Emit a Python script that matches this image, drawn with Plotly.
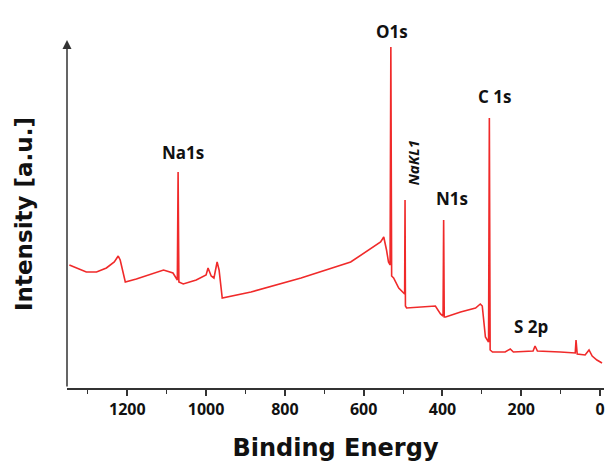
import plotly.graph_objects as go

# Binding energy (eV) and intensity (a.u.)
binding_energy = [1347, 1329, 1304, 1278, 1253, 1233, 1223, 1218, 1205, 1177, 1139, 1108, 1084,
                  1073, 1071, 1069, 1058, 1025, 1000, 995, 987, 980, 972, 967, 959,
                  886, 759, 633, 557, 549, 542, 537, 533, 531, 529, 524, 511, 499,
                  496, 495, 494, 491, 456, 418, 405, 398.5, 397, 395.5, 392, 354, 316, 304, 299, 291,
                  283, 281, 279, 273, 241, 228, 220, 170, 165, 159, 101, 63, 61, 58, 38, 28, 20, 8, -5]
intensity = [123, 120, 116, 116, 120, 126, 132, 128, 106, 109, 114, 118, 115,
             108, 216, 106, 104, 108, 113, 120, 112, 110, 126, 118, 90,
             96, 110, 126, 146, 151, 138, 126, 123, 341, 112, 110, 100, 95,
             94, 188, 82, 80, 81, 82, 74, 72, 168, 71, 71, 76, 80, 84, 82, 51,
             46, 270, 38, 36, 36, 39, 36, 37, 42, 37, 36, 35, 48, 34, 33, 38, 32, 28, 25]

peak_names = ["Na1s", "O1s", "C 1s", "N1s", "S 2p"]
peak_be = [1071, 531, 281, 397, 165]
peak_int = [216, 341, 270, 168, 42]

auger_name = "NaKL1"
auger_be = 495
auger_int = 188

x_ticks = [1200, 1000, 800, 600, 400, 200, 0]

# label placement offsets (pixels), kept apart from the data
label_offset = {"Na1s": (5, 6), "O1s": (1, 2), "C 1s": (5, 8), "N1s": (8, 8), "S 2p": (-4, 6)}

FONT = "Open Sans"
TITLE_FONT = "DejaVu Sans"
AXIS = "#333333"

fig = go.Figure()
fig.add_trace(go.Scatter(x=binding_energy, y=intensity, mode="lines",
                         line=dict(color="#f02a2a", width=1.6), showlegend=False,
                         hoverinfo="skip"))

for name, be, it in zip(peak_names, peak_be, peak_int):
    dx, dy = label_offset[name]
    fig.add_annotation(x=be, y=it, text=f"<b>{name}</b>", showarrow=False,
                       xanchor="center", yanchor="bottom", yshift=dy, xshift=dx,
                       font=dict(family=FONT, size=17, color="#111111"))

fig.add_annotation(x=auger_be, y=auger_int, text=f"<b><i>{auger_name}</i></b>", showarrow=False,
                   textangle=-90, xanchor="center", yanchor="bottom", yshift=12, xshift=7,
                   font=dict(family=FONT, size=15, color="#111111"))

# y axis drawn as an arrow
fig.add_annotation(x=0, y=1, xref="paper", yref="paper", ax=0, ay=348, axref="pixel",
                   ayref="pixel", showarrow=True, arrowhead=2, arrowsize=1.2, arrowwidth=1.5,
                   arrowcolor=AXIS, text="")

fig.update_layout(
    width=606, height=462,
    margin=dict(l=67, r=2, t=40, b=74),
    paper_bgcolor="white", plot_bgcolor="white",
    xaxis=dict(range=[1353, -10], tickvals=x_ticks, ticks="outside", ticklen=6,
               tickwidth=1.5, tickcolor=AXIS, showline=True, linecolor=AXIS, linewidth=1.5,
               showgrid=False, zeroline=False,
               minor=dict(dtick=100, tick0=0, ticks="outside", ticklen=4, tickcolor=AXIS, tickwidth=1.2),
               tickfont=dict(family=FONT, size=16, color="#111111", weight="bold"),
               title=dict(text="<b>Binding Energy</b>", standoff=21,
                          font=dict(family=TITLE_FONT, size=24, color="#111111"))),
    yaxis=dict(range=[0, 348], showticklabels=False, ticks="", showline=False,
               showgrid=False, zeroline=False,
               title=dict(text="<b>Intensity [a.u.]</b>", standoff=26,
                          font=dict(family=TITLE_FONT, size=23, color="#111111"))),
)

fig.write_html("out.html")
